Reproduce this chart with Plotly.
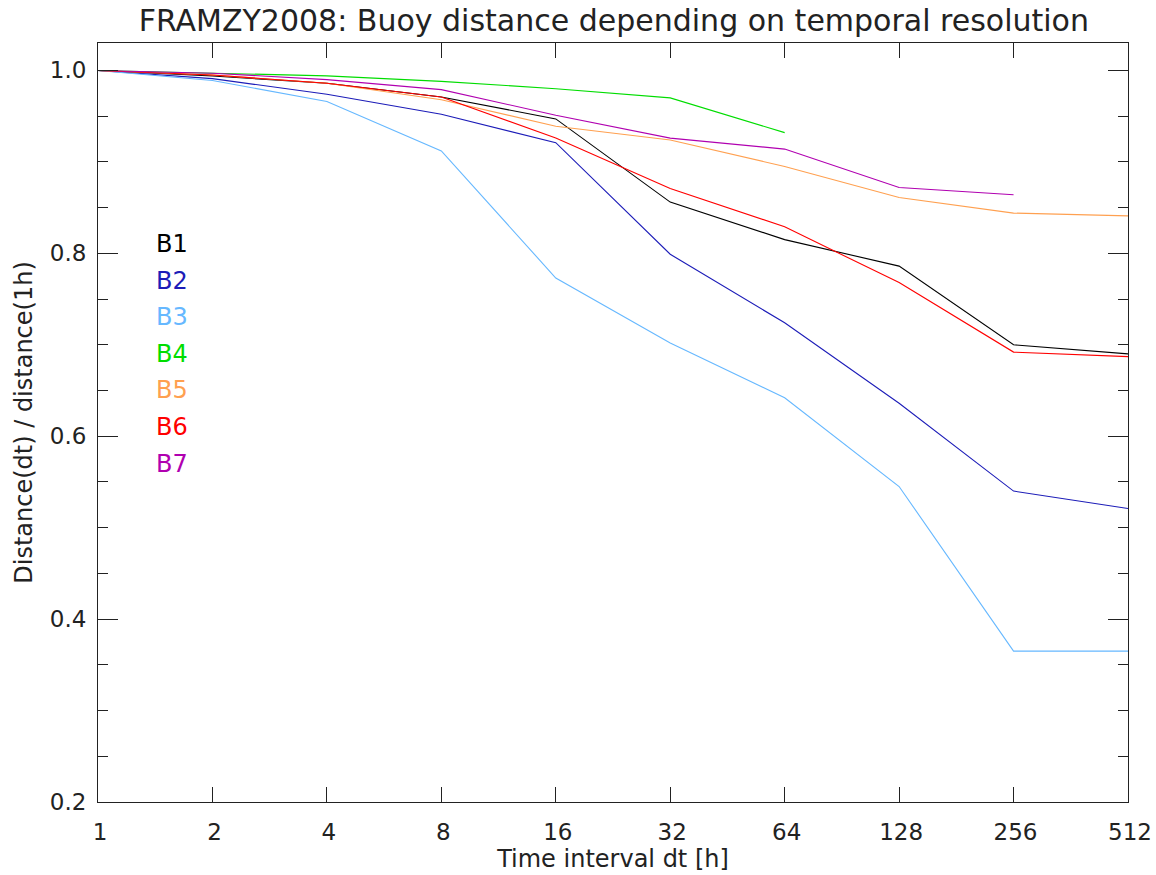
import plotly.graph_objects as go

dt = [1, 2, 4, 8, 16, 32, 64, 128, 256, 512]
x_ticklabels = ["1", "2", "4", "8", "16", "32", "64", "128", "256", "512"]

b1 = [1.0, 0.994, 0.986, 0.971, 0.947, 0.856, 0.815, 0.786, 0.700, 0.690]
b2 = [1.0, 0.991, 0.974, 0.952, 0.921, 0.799, 0.724, 0.636, 0.540, 0.521]
b3 = [1.0, 0.989, 0.966, 0.912, 0.773, 0.702, 0.642, 0.545, 0.365, 0.365]
b4 = [1.0, 0.997, 0.994, 0.988, 0.980, 0.970, 0.932]
b5 = [1.0, 0.995, 0.986, 0.968, 0.939, 0.924, 0.895, 0.861, 0.844, 0.841]
b6 = [1.0, 0.995, 0.986, 0.971, 0.926, 0.871, 0.829, 0.768, 0.692, 0.687]
b7 = [1.0, 0.997, 0.990, 0.979, 0.951, 0.926, 0.914, 0.872, 0.864]

names = ["B1", "B2", "B3", "B4", "B5", "B6", "B7"]
series = [b1, b2, b3, b4, b5, b6, b7]
colors = ["#000000", "#1c1cb8", "#66b8ff", "#00dd00", "#ffa050", "#ff0000", "#b000b0"]

FONT = "DejaVu Sans"
TXT = "#222222"

fig = go.Figure()
for name, vals, col in zip(names, series, colors):
    fig.add_trace(go.Scatter(
        x=dt[:len(vals)], y=vals, mode="lines", name=name,
        line=dict(color=col, width=1.1), showlegend=False))

# text legend
for i, (name, col) in enumerate(zip(names, colors)):
    fig.add_annotation(
        x=0.054, y=0.735 - i * 0.0482, xref="paper", yref="paper",
        text=name, showarrow=False, xanchor="left", yanchor="middle",
        font=dict(family=FONT, size=24, color=col))

fig.update_layout(
    width=1156, height=875,
    paper_bgcolor="white", plot_bgcolor="white",
    margin=dict(l=98, r=28, t=43, b=73),
    font=dict(family=FONT, color=TXT),
    title=dict(
        text="FRAMZY2008: Buoy distance depending on temporal resolution",
        x=0.531, xanchor="center", y=1 - 20 / 875, yanchor="middle",
        font=dict(family=FONT, size=30, color=TXT)),
)

fig.update_xaxes(
    type="log", range=[0, 2.70927], tickvals=dt, ticktext=x_ticklabels,
    ticks="inside", ticklen=15, tickwidth=1, tickcolor="#222",
    showline=True, linecolor="#222", linewidth=1, mirror="ticks",
    showgrid=False, zeroline=False, ticklabelstandoff=9, ticklabelshift=2,
    automargin=False,
    tickfont=dict(family=FONT, size=23, color=TXT),
    title=dict(text="Time interval dt [h]", standoff=6,
               font=dict(family=FONT, size=24, color=TXT)))

fig.update_yaxes(
    range=[0.2, 1.03], tick0=0.2, dtick=0.2, tickformat=".1f",
    ticks="inside", ticklen=20, tickwidth=1, tickcolor="#222",
    minor=dict(dtick=0.05, tick0=0.2, ticks="inside", ticklen=10,
               tickcolor="#222", tickwidth=1, showgrid=False),
    showline=True, linecolor="#222", linewidth=1, mirror="ticks",
    showgrid=False, zeroline=False, ticklabelstandoff=6,
    automargin=False,
    tickfont=dict(family=FONT, size=23, color=TXT),
    title=dict(text="Distance(dt) / distance(1h)", standoff=10,
               font=dict(family=FONT, size=24, color=TXT)))

fig.write_html("out.html")
